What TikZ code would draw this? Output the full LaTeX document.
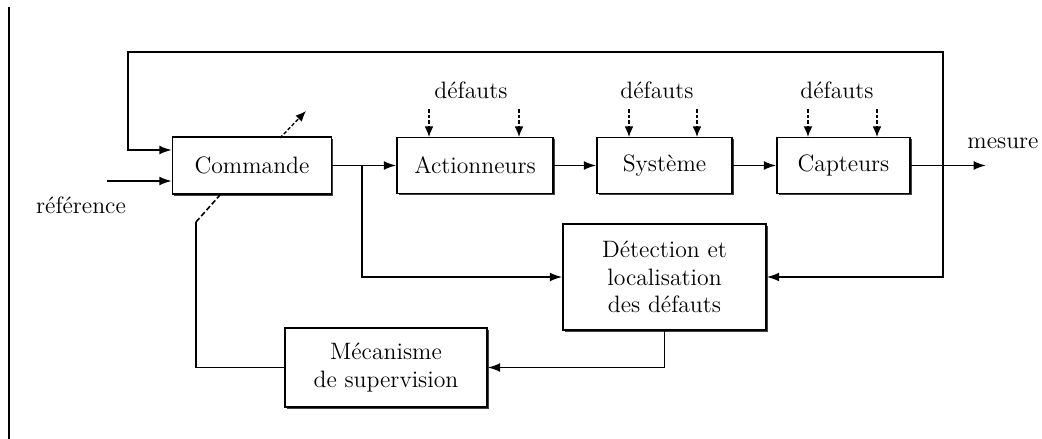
\documentclass[tikz,border=0pt]{standalone}
\usetikzlibrary{arrows.meta,calc,shadows}
\begin{document}
\begin{tikzpicture}[x=0.02cm,y=-0.02cm,
  every node/.style={font=\fontsize{13.5}{15.5}\selectfont},
  blk/.style={draw,line width=0.9pt,fill=white,align=center,inner sep=0pt,
    drop shadow={shadow xshift=0.9pt,shadow yshift=-0.9pt,fill=black!75,opacity=1}},
  conn/.style={line width=0.9pt},
  arr/.style={conn,-{Latex[length=7pt,width=5pt]}},
  darr/.style={line width=0.8pt,dash pattern=on 2pt off 1.2pt,-{Latex[length=6pt,width=5pt]}},
  lbl/.style={inner sep=0pt}]
\useasboundingbox (0,0) rectangle (1042,439);
\draw[line width=1.2pt] (9,7) -- (9,439);
% blocks
\node[blk,minimum width=3.18cm,minimum height=1.14cm] (cmd) at (252,165.5) {Commande};
\node[blk,minimum width=3.12cm,minimum height=1.12cm] (act) at (475,165.5) {Actionneurs};
\node[blk,minimum width=2.7cm,minimum height=1.12cm] (sys) at (664.5,165.5) {Système};
\node[blk,minimum width=2.66cm,minimum height=1.12cm] (cap) at (843.5,165.5) {Capteurs};
\node[blk,minimum width=4.06cm,minimum height=2.12cm] (det) at (664.5,277) {Détection et\\localisation\\des défauts};
\node[blk,minimum width=4.04cm,minimum height=1.58cm] (mec) at (386,367.5) {Mécanisme\\de supervision};
% labels
\node[lbl] (ref) at (81,205) {référence};
\node[lbl] (mes) at (1003,143) {mesure};
\node[lbl] (d1) at (471,90) {défauts};
\node[lbl] (d2) at (657,90) {défauts};
\node[lbl] (d3) at (837,90) {défauts};
% coordinates
\coordinate (jM) at (943,165.5);
\coordinate (tr) at (943,52);
\coordinate (tl) at (128,52);
\coordinate (jC) at (362,165.5);
\coordinate (refs) at (107,181);
\coordinate (mesE) at (986,165.5);
% main chain
\draw[arr] (cmd.east) -- (act.west);
\draw[arr] (act.east) -- (sys.west);
\draw[arr] (sys.east) -- (cap.west);
\draw[arr] (cap.east) -- (mesE);
\draw[arr] (refs) -- ($(cmd.west)+(0,15.5)$);
% feedback
\draw[arr] (jM) -- (tr) -- (tl) |- ($(cmd.west)+(0,-15.5)$);
\draw[arr] (jM) |- (det.east);
\draw[arr] (jC) |- (det.west);
\draw[arr] (det.south) |- (mec.east);
% supervision to commande
\coordinate (kink) at (196,222);
\coordinate (cb) at (220,195);
\draw[conn] (mec.west) -| (kink);
\draw[conn,dash pattern=on 3pt off 1.5pt] (kink) -- (cb);
\coordinate (ct) at (280,138);
\coordinate (ctE) at (306,111);
\draw[darr] (ct) -- (ctE);
% defauts arrows
\foreach \x in {429,519,629,697,808,877}{
  \draw[darr] (\x,109) -- (\x,137);
}
\end{tikzpicture}
\end{document}
